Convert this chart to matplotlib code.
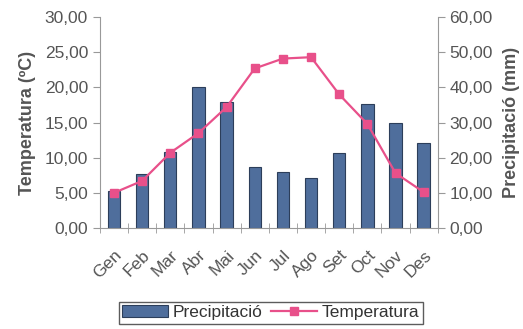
import matplotlib.pyplot as plt
import numpy as np

plt.rcParams['font.family'] = ['Liberation Sans', 'DejaVu Sans']

mesos = ['Gen', 'Feb', 'Mar', 'Abr', 'Mai', 'Jun', 'Jul', 'Ago', 'Set', 'Oct', 'Nov', 'Des']
precipitacio = [10.5, 15.4, 21.6, 40.1, 35.8, 17.4, 15.9, 14.2, 21.3, 35.3, 29.9, 24.2]
temperatura = [5.0, 6.7, 10.7, 13.5, 17.2, 22.7, 24.1, 24.3, 19.0, 14.8, 7.8, 5.1]

grey = '#555555'
x = np.arange(len(mesos))

fig = plt.figure(figsize=(5.23, 3.29), dpi=100)
ax = fig.add_axes([0.191, 0.307, 0.646, 0.641])
ax2 = ax.twinx()

# precipitation bars on the right-hand scale
bars = ax2.bar(x, precipitacio, width=0.44, color='#4f6e9c', edgecolor='#2c3e5a',
               linewidth=0.8, label='Precipitació', zorder=2)
ax2.set_ylim(0, 60)
ax2.set_yticks(np.arange(0, 61, 10))
ax2.set_yticklabels([f'{v:.2f}'.replace('.', ',') for v in np.arange(0, 61, 10)])
ax2.set_ylabel('Precipitació (mm)', fontsize=13, fontweight='bold', color=grey,
               labelpad=7)

# temperature line on the left-hand scale, drawn above the bars
ax.set_zorder(ax2.get_zorder() + 1)
ax.patch.set_visible(False)
line, = ax.plot(x, temperatura, color='#e8508a', marker='s', markersize=6,
                linewidth=1.6, label='Temperatura')
ax.set_ylim(0, 30)
ax.set_yticks(np.arange(0, 31, 5))
ax.set_yticklabels([f'{v:.2f}'.replace('.', ',') for v in np.arange(0, 31, 5)])
ax.set_ylabel('Temperatura (ºC)', fontsize=13, fontweight='bold', color=grey,
              labelpad=6)

ax.set_xlim(-0.5, len(mesos) - 0.5)
ax.set_xticks(x)
ax.set_xticklabels(mesos, rotation=45, ha='right', va='top', rotation_mode='anchor')
ax.set_xticks(np.arange(-0.5, len(mesos), 1), minor=True)
ax.tick_params(axis='x', which='major', length=0, pad=14)
ax.tick_params(axis='x', which='minor', direction='inout', length=7, color='#999999')

for a in (ax, ax2):
    for s in a.spines.values():
        s.set_visible(False)
    a.tick_params(axis='y', labelsize=12.5, labelcolor=grey, color='#999999', length=5)
    a.tick_params(axis='x', labelsize=12.5, labelcolor=grey)
ax.spines['left'].set_visible(True)
ax.spines['bottom'].set_visible(True)
ax2.spines['right'].set_visible(True)
for s in (ax.spines['left'], ax.spines['bottom'], ax2.spines['right']):
    s.set_color('#999999')

leg = fig.legend([bars, line], ['Precipitació', 'Temperatura'], ncol=2,
                 loc='center', bbox_to_anchor=(0.518, 0.05), fontsize=12.5,
                 frameon=True, fancybox=False, edgecolor='#333333',
                 handlelength=2.6, handletextpad=0.3, columnspacing=0.5,
                 borderpad=0.2, borderaxespad=0)
for t in leg.get_texts():
    t.set_color('#333333')

fig.savefig('out.png', dpi=100)
